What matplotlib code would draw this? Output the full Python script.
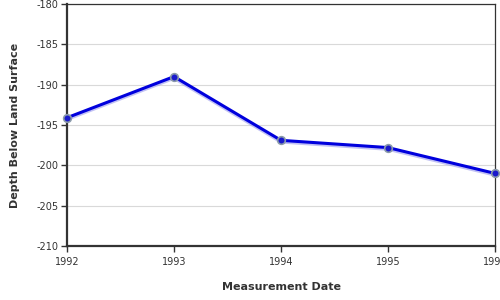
import matplotlib
matplotlib.use("Agg")
import matplotlib.pyplot as plt

plt.rcParams["axes.unicode_minus"] = False

years = [1992, 1993, 1994, 1995, 1996]
depth = [-194.1, -189.0, -196.9, -197.8, -201.0]
y_ticks = [-210, -205, -200, -195, -190, -185, -180]

fig = plt.figure(figsize=(5, 3), dpi=100)
ax = fig.add_axes([0.134, 0.18, 0.856, 0.8067])

# soft shadow under the line
ax.plot(years, depth, color="#9999ee", lw=2.5, alpha=0.6,
        transform=ax.transData + matplotlib.transforms.ScaledTranslation(0, -1.5 / 100, fig.dpi_scale_trans),
        zorder=2)
ax.plot(years, depth, color="#0000dd", lw=2.2, zorder=3, clip_on=False)
ax.plot(years, depth, "o", ms=5.5, mfc="#1a1acc", mec="#8a9aaa", mew=1.2,
        zorder=4, clip_on=False)

ax.set_xlim(1992, 1996)
ax.set_ylim(-210, -180)
ax.set_xticks(years)
ax.set_yticks(y_ticks)
ax.grid(axis="y", color="#d9d9d9", lw=0.8)
ax.set_axisbelow(True)

for s in ["left", "bottom"]:
    ax.spines[s].set_linewidth(1.6)
    ax.spines[s].set_color("#333333")
for s in ["top", "right"]:
    ax.spines[s].set_linewidth(0.9)
    ax.spines[s].set_color("#333333")

ax.tick_params(axis="both", direction="out", length=4, width=1, color="#333333",
               labelsize=7, labelcolor="#333333", pad=2)
ax.tick_params(axis="x", pad=4)

ax.set_xlabel("Measurement Date", fontsize=8, fontweight="bold", color="#333333", labelpad=11)
ax.set_ylabel("Depth Below Land Surface", fontsize=8, fontweight="bold", color="#333333", labelpad=12)

fig.savefig("out.png", dpi=100)
